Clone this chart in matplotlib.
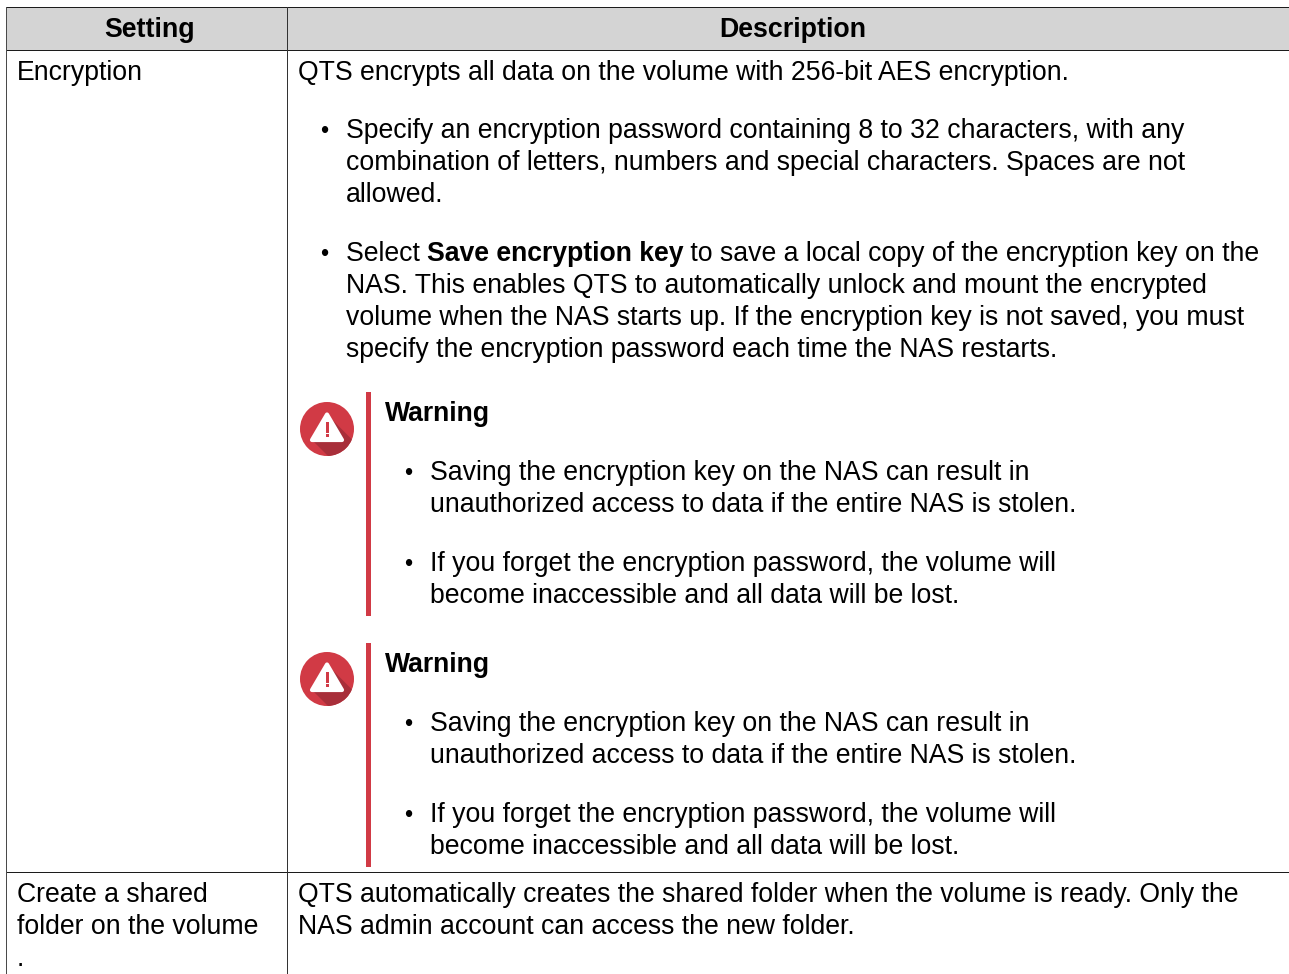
import matplotlib
matplotlib.use("Agg")
import matplotlib.pyplot as plt
from matplotlib.patches import Rectangle, Circle, Polygon

W, H = 1289, 974
FS = 19.18
HEAD_FS = 19.25
BULLET_FS = 17
FONT = "Liberation Sans"
RED = "#d13a45"
DARK_RED = "#a82f3a"
LC = "#1c1c1c"
TEXT = "#000000"

headers = ["Setting", "Description"]
setting_lines = [("Encryption", 80), ("Create a shared", 902), ("folder on the volume", 934), (".", 966)]
desc_lines = [
    (298, 80, "QTS encrypts all data on the volume with 256-bit AES encryption."),
    (346, 138, "Specify an encryption password containing 8 to 32 characters, with any"),
    (346, 170, "combination of letters, numbers and special characters. Spaces are not"),
    (346, 202, "allowed."),
    (346, 293, "NAS. This enables QTS to automatically unlock and mount the encrypted"),
    (346, 325, "volume when the NAS starts up. If the encryption key is not saved, you must"),
    (346, 357, "specify the encryption password each time the NAS restarts."),
    (298, 902, "QTS automatically creates the shared folder when the volume is ready. Only the"),
    (298, 934, "NAS admin account can access the new folder."),
]
mixed_line = ["Select ", "Save encryption key", " to save a local copy of the encryption key on the"]
warning_title = "Warning"
warning_lines = [
    (0, "Saving the encryption key on the NAS can result in"),
    (32, "unauthorized access to data if the entire NAS is stolen."),
    (91, "If you forget the encryption password, the volume will"),
    (123, "become inaccessible and all data will be lost."),
]
warning_tops = [392, 643]

fig = plt.figure(figsize=(W / 100, H / 100), dpi=100, facecolor="white")
ax = fig.add_axes([0, 0, 1, 1])
ax.set_xlim(0, W)
ax.set_ylim(H, 0)
ax.axis("off")


def put(x, y, s, weight="normal", size=FS, ha="left"):
    return ax.text(x, y, s, fontfamily=FONT, fontsize=size, fontweight=weight,
                   ha=ha, va="baseline", color=TEXT)


def rule(x, y, w, h, color=LC):
    ax.add_patch(Rectangle((x, y), w, h, fc=color, ec="none", lw=0, antialiased=False, zorder=1))


# table frame
ax.add_patch(Rectangle((6, 8), W, 42, fc="#d4d4d4", ec="none", zorder=0))
rule(6, 7, W, 1)
rule(6, 50, W, 1)
rule(6, 872, W, 1)
rule(6, 7, 1, H, "#4a4a4a")
rule(287, 7, 1, H, "#333333")

put(149.5, 37, headers[0], "bold", HEAD_FS, "center")
put(792.5, 37, headers[1], "bold", HEAD_FS, "center")

for s, y in setting_lines:
    put(17, y, s)
for x, y, s in desc_lines:
    put(x, y, s)

# bullets
for y in [138, 261]:
    put(320.5, y, "•", size=BULLET_FS)

# mixed weight line
fig.canvas.draw()
rend = fig.canvas.get_renderer()
x = 346.0
for seg, w in zip(mixed_line, ["normal", "bold", "normal"]):
    put(x, 261, seg, w)
    probe = put(0, 0, seg.replace(" ", "|"), w)
    x += probe.get_window_extent(rend).width
    probe.remove()


def warning_icon(cx, cy):
    r = 27
    circ = Circle((cx, cy), r, fc=RED, ec="none", zorder=2)
    ax.add_patch(circ)
    apex, left, right = (cx, cy - 14.5), (cx - 15, cy + 11), (cx + 15, cy + 11)
    d = 50
    shadow = Polygon([apex, (apex[0] + d, apex[1] + d), (left[0] + d, left[1] + d), left],
                     fc=DARK_RED, ec="none", zorder=3)
    ax.add_patch(shadow)
    shadow.set_clip_path(circ)
    ax.add_patch(Polygon([apex, right, left], closed=True, fc="white", ec="white",
                         lw=3, joinstyle="round", zorder=4))
    ax.add_patch(Rectangle((cx - 1.5, cy - 7.5), 3, 11, fc=RED, ec="none", zorder=5))
    ax.add_patch(Rectangle((cx - 1.5, cy + 5), 3, 3, fc=RED, ec="none", zorder=5))


for top in warning_tops:
    ax.add_patch(Rectangle((366, top), 5, 224, fc=RED, ec="none"))
    warning_icon(327, top + (37 if top == 392 else 36))
    put(384.5, top + 29, warning_title, "bold")
    base = top + 88
    for dy, s in warning_lines:
        put(430, base + dy, s)
    put(404.5, base, "•", size=BULLET_FS)
    put(404.5, base + 91, "•", size=BULLET_FS)

fig.savefig("out.png", dpi=100, facecolor="white")
